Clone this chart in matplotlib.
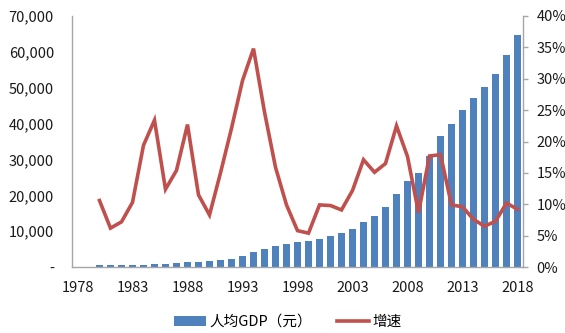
import matplotlib
matplotlib.use("Agg")
import matplotlib.pyplot as plt
from matplotlib.ticker import FuncFormatter, MultipleLocator
from matplotlib.lines import Line2D
from matplotlib.patches import Patch
import numpy as np

plt.rcParams['font.family'] = ['Noto Sans CJK SC', 'DejaVu Sans']

years = list(range(1978, 2019))
# per-capita GDP in yuan (None for years without data)
gdp_per_capita = [None, None, 468, 497, 533, 588, 702, 866, 973, 1123,
                  1378, 1536, 1663, 1912, 2334, 3027, 4081, 5091, 5898, 6481,
                  6860, 7229, 7942, 8717, 9506, 10666, 12487, 14368, 16738, 20505,
                  24121, 26222, 30876, 36403, 40007, 43852, 47203, 50251, 53935, 59201,
                  64644]
# year-on-year growth rate
growth = [None, None, 0.106, 0.062, 0.072, 0.103, 0.194, 0.234, 0.124, 0.154,
          0.227, 0.115, 0.083, 0.150, 0.221, 0.297, 0.348, 0.247, 0.159, 0.099,
          0.058, 0.054, 0.099, 0.098, 0.091, 0.122, 0.171, 0.151, 0.165, 0.225,
          0.176, 0.087, 0.177, 0.179, 0.099, 0.096, 0.076, 0.065, 0.073, 0.102,
          0.092]
tick_years = [1978, 1983, 1988, 1993, 1998, 2003, 2008, 2013, 2018]

bar_color = '#4F81BD'
line_color = '#C0504D'
spine_color = '#A6A6A6'
text_color = '#1a1a1a'
fs = 10.5

fig = plt.figure(figsize=(5.65, 3.33), dpi=100)
ax = fig.add_axes([0.1274, 0.198, 0.7983, 0.754])
ax2 = ax.twinx()

x = np.arange(len(years))
bar_vals = np.array([np.nan if v is None else v for v in gdp_per_capita], dtype=float)
line_vals = np.array([np.nan if v is None else v for v in growth], dtype=float)

ax.bar(x, np.nan_to_num(bar_vals), width=0.55, color=bar_color, zorder=2)
ax2.plot(x, line_vals, color=line_color, lw=2.6, solid_joinstyle='miter', zorder=3)

ax.set_xlim(-0.5, len(years) - 0.5)
ax.set_ylim(0, 70000)
ax2.set_ylim(0, 0.40)

ax.yaxis.set_major_locator(MultipleLocator(10000))
ax.yaxis.set_major_formatter(FuncFormatter(lambda v, p: '-' if v == 0 else f'{int(v):,}'))
ax2.yaxis.set_major_locator(MultipleLocator(0.05))
ax2.yaxis.set_major_formatter(FuncFormatter(lambda v, p: f'{v*100:.0f}%'))

ax.set_xticks([years.index(y) for y in tick_years])
ax.set_xticklabels([str(y) for y in tick_years])

ax.tick_params(axis='y', length=0, pad=13, labelsize=fs, labelcolor=text_color)
ax.tick_params(axis='x', length=0, pad=10, labelsize=fs, labelcolor=text_color)
ax2.tick_params(axis='y', length=3.6, width=1, color=spine_color, pad=6,
                labelsize=fs, labelcolor=text_color)

for a in (ax, ax2):
    a.spines['top'].set_visible(False)
    for s in ('left', 'right', 'bottom'):
        a.spines[s].set_color(spine_color)
        a.spines[s].set_linewidth(1)
ax.spines['right'].set_visible(False)
ax2.spines['left'].set_visible(False)
ax2.spines['bottom'].set_visible(False)

handles = [Patch(facecolor=bar_color, edgecolor='none'),
           Line2D([0], [0], color=line_color, lw=2.6)]
fig.legend(handles, ['人均GDP（元）', '增速'], loc='center', bbox_to_anchor=(0.509, 0.033),
           ncol=2, frameon=False, fontsize=fs, handlelength=2.2, handleheight=0.6,
           columnspacing=1.7, handletextpad=0.25)

fig.savefig('out.png', dpi=100)
